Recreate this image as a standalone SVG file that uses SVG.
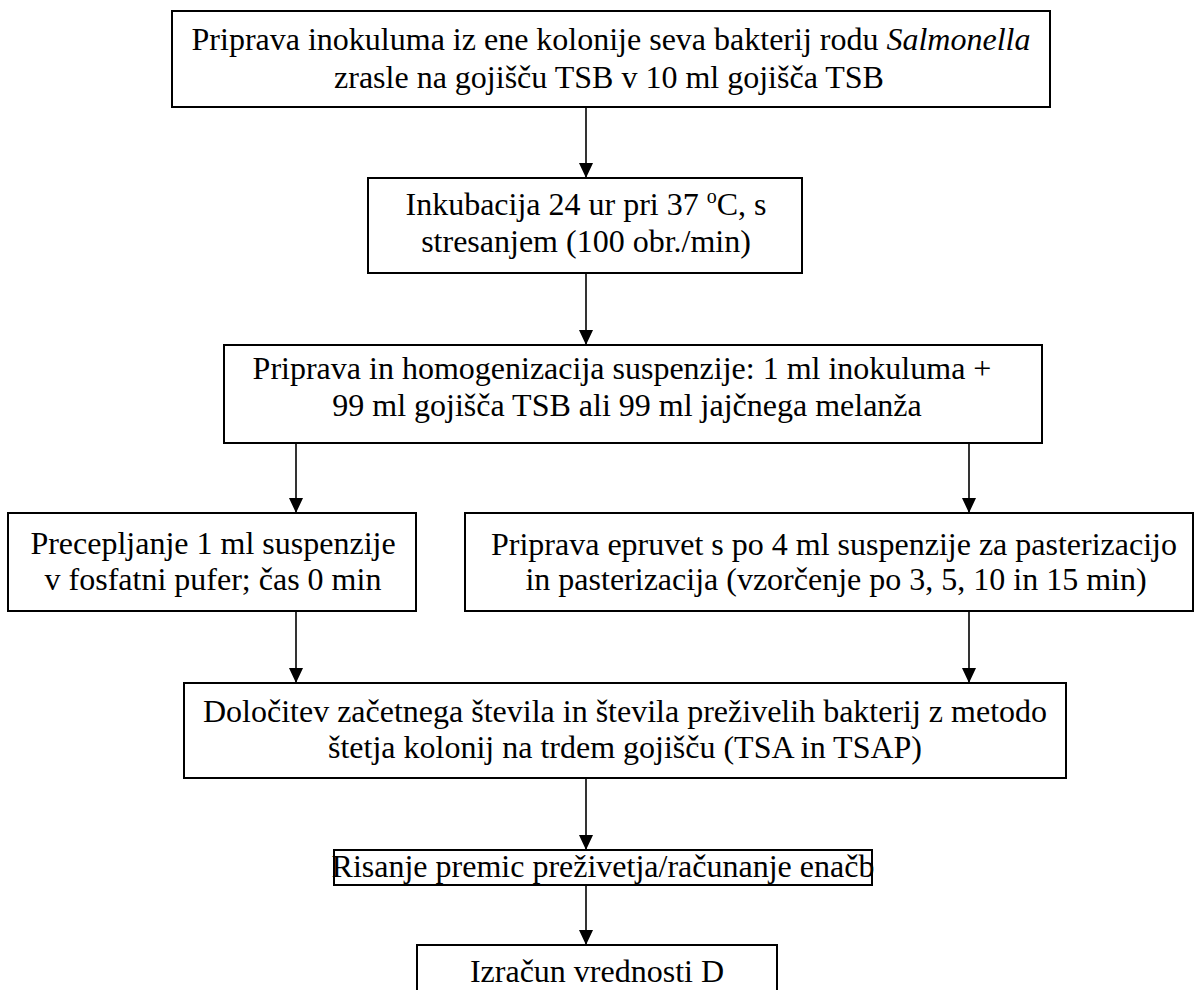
<svg xmlns="http://www.w3.org/2000/svg" width="1198" height="990" viewBox="0 0 1198 990">
<defs>
<style>
.box{fill:#fff;stroke:#000;stroke-width:2}
.t{font-family:"Liberation Serif","Times New Roman",serif;font-size:32px;fill:#000;text-anchor:middle}
.c{stroke:#000;stroke-width:1.6;fill:none}
</style>
<marker id="ah" markerWidth="15" markerHeight="14" refX="15" refY="7" orient="auto" markerUnits="userSpaceOnUse">
<path d="M0,0 L15,7 L0,14 Z" fill="#000"/>
</marker>
</defs>
<rect width="1198" height="990" fill="#fff"/>
<g id="connectors">
<line class="c" x1="586" y1="107" x2="586" y2="178" marker-end="url(#ah)"/>
<line class="c" x1="586" y1="273" x2="586" y2="345" marker-end="url(#ah)"/>
<line class="c" x1="296" y1="443" x2="296" y2="513" marker-end="url(#ah)"/>
<line class="c" x1="969" y1="443" x2="969" y2="513" marker-end="url(#ah)"/>
<line class="c" x1="296" y1="611" x2="296" y2="683" marker-end="url(#ah)"/>
<line class="c" x1="969" y1="611" x2="969" y2="683" marker-end="url(#ah)"/>
<line class="c" x1="586" y1="778" x2="586" y2="850" marker-end="url(#ah)"/>
<line class="c" x1="586" y1="885" x2="586" y2="945" marker-end="url(#ah)"/>
</g>
<g id="n1">
<rect class="box" x="172" y="11" width="878" height="96"/>
<text class="t" x="611" y="50">Priprava inokuluma iz ene kolonije seva bakterij rodu <tspan font-style="italic">Salmonella</tspan></text>
<text class="t" x="609" y="88">zrasle na gojišču TSB v 10 ml gojišča TSB</text>
</g>
<g id="n2">
<rect class="box" x="368" y="178" width="434" height="95"/>
<text class="t" x="586" y="215">Inkubacija 24 ur pri 37 <tspan font-size="20" dy="-12">o</tspan><tspan dy="12">C, s</tspan></text>
<text class="t" x="586" y="252">stresanjem (100 obr./min)</text>
</g>
<g id="n3">
<rect class="box" x="224" y="345" width="818" height="98"/>
<text class="t" x="622" y="379">Priprava in homogenizacija suspenzije: 1 ml inokuluma +</text>
<text class="t" x="627" y="416">99 ml gojišča TSB ali 99 ml jajčnega melanža</text>
</g>
<g id="n4">
<rect class="box" x="8" y="513" width="408" height="98"/>
<text class="t" x="213" y="554">Precepljanje 1 ml suspenzije</text>
<text class="t" x="213" y="590">v fosfatni pufer; čas 0 min</text>
</g>
<g id="n5">
<rect class="box" x="465" y="513" width="728" height="98"/>
<text class="t" x="834" y="555">Priprava epruvet s po 4 ml suspenzije za pasterizacijo</text>
<text class="t" x="836" y="590">in pasterizacija (vzorčenje po 3, 5, 10 in 15 min)</text>
</g>
<g id="n6">
<rect class="box" x="184" y="683" width="882" height="95"/>
<text class="t" x="625" y="722">Določitev začetnega števila in števila preživelih bakterij z metodo</text>
<text class="t" x="625" y="758">štetja kolonij na trdem gojišču (TSA in TSAP)</text>
</g>
<g id="n7">
<rect class="box" x="334" y="850" width="538" height="35"/>
<text class="t" x="603" y="877">Risanje premic preživetja/računanje enačb</text>
</g>
<g id="n8">
<rect class="box" x="417" y="945" width="360" height="60"/>
<text class="t" x="597" y="982">Izračun vrednosti D</text>
</g>
</svg>
